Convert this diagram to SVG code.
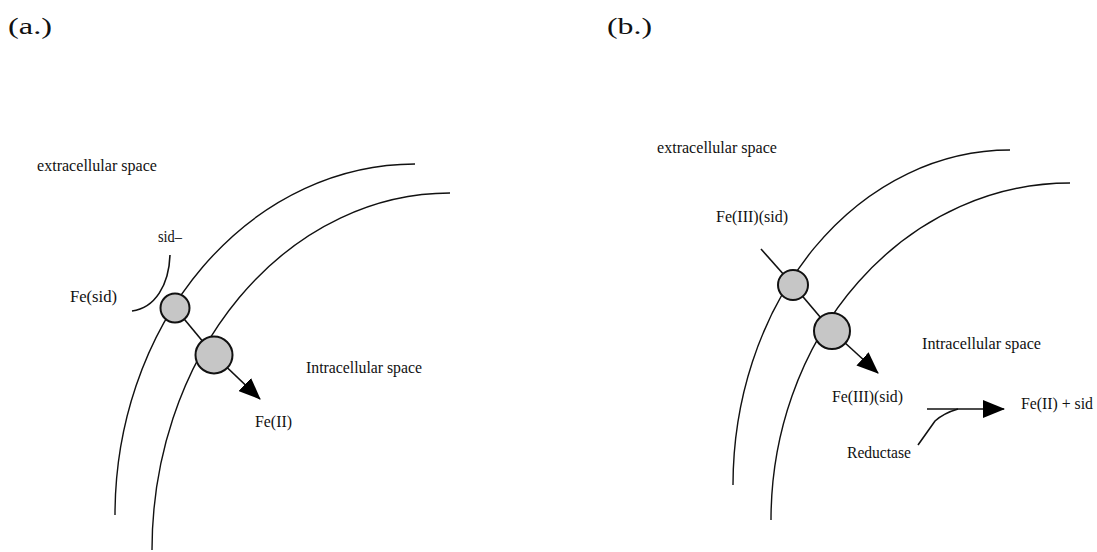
<svg xmlns="http://www.w3.org/2000/svg" width="1097" height="552" viewBox="0 0 1097 552">
<defs>
<style>
text{font-family:"Liberation Serif","Times New Roman",serif;fill:#111;}
.lbl{font-size:16px;}
.big{font-size:24px;}
.mem{fill:none;stroke:#111;stroke-width:1.4;}
.con{fill:none;stroke:#111;stroke-width:1.6;}
.ch{fill:#c6c6c6;stroke:#111;stroke-width:2;}
</style>
<marker id="ah" markerUnits="userSpaceOnUse" viewBox="0 0 22 18" refX="21" refY="9" markerWidth="22" markerHeight="18" orient="auto">
<path d="M0,0 L22,9 L0,18 Z" fill="#000"/>
</marker>
</defs>
<rect width="1097" height="552" fill="#fff"/>

<g id="panel-labels">
<text class="big" x="8" y="34" textLength="44" lengthAdjust="spacingAndGlyphs">(a.)</text>
<text class="big" x="607" y="34" textLength="45" lengthAdjust="spacingAndGlyphs">(b.)</text>
</g>

<g id="membranes">
<path class="mem" d="M115,515 A300,351 0 0 1 415,164"/>
<path class="mem" d="M152,550 A298,357 0 0 1 450,193"/>
<path class="mem" d="M733,485 A277,335 0 0 1 1010,150"/>
<path class="mem" d="M771,520 A299,337 0 0 1 1070,183"/>
</g>

<g id="connectors">
<path class="con" d="M170,255 C169,285 155,308 132,311"/>
<line class="con" x1="175" y1="308" x2="214" y2="355"/>
<line class="con" x1="214" y1="355" x2="260" y2="399" marker-end="url(#ah)"/>
<line class="con" x1="761" y1="249" x2="793" y2="285"/>
<line class="con" x1="793" y1="285" x2="832" y2="331"/>
<line class="con" x1="832" y1="331" x2="878" y2="373" marker-end="url(#ah)"/>
<line class="con" x1="927" y1="409" x2="1004" y2="409" marker-end="url(#ah)"/>
<path class="con" d="M918,445 L935,421 Q944,413 958,409"/>
</g>

<g id="channel-a1"><circle class="ch" cx="175" cy="308" r="14.5"/></g>
<g id="channel-a2"><circle class="ch" cx="214" cy="355" r="18.5"/></g>
<g id="channel-b1"><circle class="ch" cx="793" cy="285" r="15"/></g>
<g id="channel-b2"><circle class="ch" cx="832" cy="331" r="18"/></g>

<g id="labels-a">
<text class="lbl" x="37" y="171" textLength="120" lengthAdjust="spacingAndGlyphs">extracellular space</text>
<text class="lbl" x="158" y="242" textLength="24" lengthAdjust="spacingAndGlyphs">sid–</text>
<text class="lbl" x="70" y="302" textLength="47" lengthAdjust="spacingAndGlyphs">Fe(sid)</text>
<text class="lbl" x="306" y="373" textLength="116" lengthAdjust="spacingAndGlyphs">Intracellular space</text>
<text class="lbl" x="255" y="427" textLength="37" lengthAdjust="spacingAndGlyphs">Fe(II)</text>
</g>

<g id="labels-b">
<text class="lbl" x="657" y="153" textLength="120" lengthAdjust="spacingAndGlyphs">extracellular space</text>
<text class="lbl" x="716" y="222" textLength="72" lengthAdjust="spacingAndGlyphs">Fe(III)(sid)</text>
<text class="lbl" x="922" y="349" textLength="119" lengthAdjust="spacingAndGlyphs">Intracellular space</text>
<text class="lbl" x="832" y="402" textLength="71" lengthAdjust="spacingAndGlyphs">Fe(III)(sid)</text>
<text class="lbl" x="1021" y="409" textLength="72" lengthAdjust="spacingAndGlyphs">Fe(II) + sid</text>
<text class="lbl" x="847" y="458" textLength="64" lengthAdjust="spacingAndGlyphs">Reductase</text>
</g>
</svg>
